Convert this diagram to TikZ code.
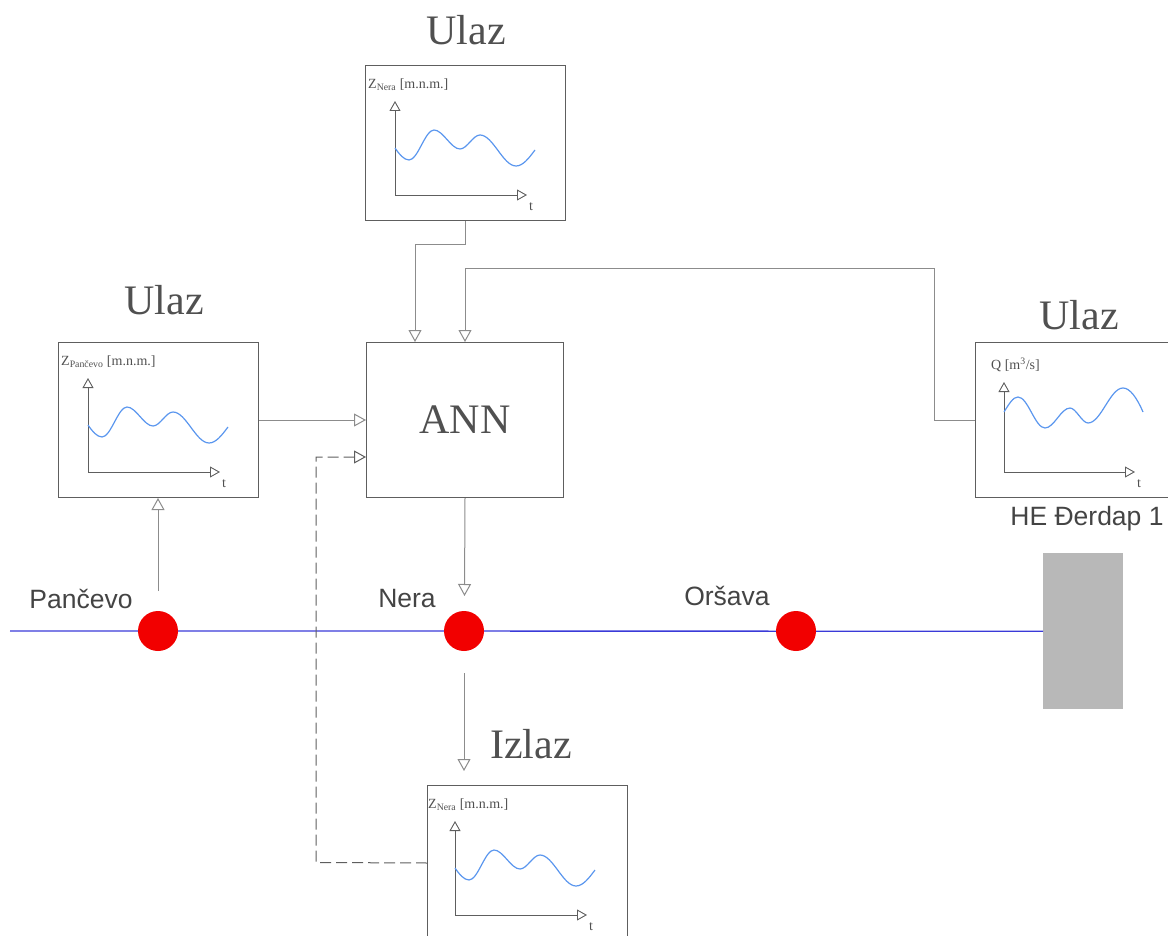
\documentclass[tikz,border=0pt]{standalone}
\usepackage{fontspec}
\setmainfont{Liberation Serif}
\newfontfamily\sansf{Liberation Sans}
\usetikzlibrary{arrows.meta}
\definecolor{linegray}{HTML}{8C8C8C}
\definecolor{boxgray}{HTML}{5E5E5E}
\definecolor{textgray}{HTML}{505050}
\definecolor{sansgray}{HTML}{444444}
\definecolor{wavecol}{HTML}{5A96EE}
\definecolor{rivercol}{HTML}{3A3AD8}
\definecolor{damgray}{HTML}{B8B8B8}
\definecolor{dotred}{HTML}{F20000}
\newcommand\stdwave{(30,83) .. controls (34,89) and (39,95) .. (44,95) .. controls (53,95) and (60,65) .. (69,65) .. controls (78,65) and (86,84) .. (95,84) .. controls (102,84) and (108,70) .. (115,70) .. controls (128,70) and (138,101) .. (151,101) .. controls (158,101) and (164,93) .. (170,85)}
\newcommand\stdplot[2]{%
  \node[lbl, anchor=west] (#1lbl) at (3,20) {#2};
  \draw[axis] (30,130) -- (30,36);
  \draw[axis] (30,130) -- (162,130);
  \node[lbl] (#1t) at (166,142) {t};
  \draw[wavestyle] \stdwave;
}
\begin{document}
\begin{tikzpicture}[x=1pt,y=-1pt,
  plotbox/.style={draw=boxgray, line width=1pt, minimum width=200pt, minimum height=155pt, inner sep=0pt, anchor=north west},
  conn/.style={draw=linegray, line width=1pt, -{Triangle[open,length=12pt,width=13pt]}},
  axis/.style={draw=boxgray, line width=0.9pt, -{Triangle[open,length=10pt,width=11pt]}},
  wavestyle/.style={draw=wavecol, line width=1.2pt},
  lbl/.style={font=\fontsize{14}{16}\selectfont, text=textgray, inner sep=0pt},
  title/.style={font=\fontsize{42}{48}\selectfont, text=textgray, inner sep=0pt, anchor=base},
  place/.style={font=\sansf\fontsize{26.5}{30}\selectfont, text=sansgray, inner sep=0pt, anchor=base},
  dot/.style={circle, fill=dotred, minimum size=40pt, inner sep=0pt},
  dashpat/.style={draw=boxgray, dash pattern=on 11pt off 5pt}
]
\useasboundingbox (0,0) rectangle (1168,936);

% boxes
\node[plotbox] (topbox) at (365,65) {};
\node[plotbox] (leftbox) at (58,342) {};
\node[plotbox] (rightbox) at (975,342) {};
\node[plotbox] (botbox) at (427,785) {};
\node[plotbox, minimum width=197pt] (ann) at (366,342) {};
\node[title] (anntxt) at (465,433) {ANN};

% plots
\begin{scope}[shift={(365,65)}]\stdplot{tp}{Z\textsubscript{Nera} [m.n.m.]}\end{scope}
\begin{scope}[shift={(58,342)}]\stdplot{lp}{Z\textsubscript{Pančevo} [m.n.m.]}\end{scope}
\begin{scope}[shift={(425,785)}]\stdplot{bp}{Z\textsubscript{Nera} [m.n.m.]}\end{scope}
\begin{scope}[shift={(975,342)}]
  \node[lbl, anchor=west] (rplbl) at (16,23) {Q [m\textsuperscript{3}/s]};
  \draw[axis] (29,130) -- (29,40);
  \draw[axis] (29,130) -- (160,130);
  \node[lbl] (rpt) at (164,142) {t};
  \draw[wavestyle] (29,70) .. controls (34,62) and (38,55) .. (43,55) .. controls (53,55) and (60,86) .. (70,86) .. controls (79,86) and (86,66) .. (95,66) .. controls (101,66) and (107,81) .. (113,81) .. controls (126,81) and (135,46) .. (148,46) .. controls (155,46) and (162,56) .. (168,70);
\end{scope}

% titles
\node[title] (t1) at (466,45) {Ulaz};
\node[title] (t2) at (164,314) {Ulaz};
\node[title] (t3) at (1079,330) {Ulaz};
\node[title] (t4) at (531,758) {Izlaz};

% river
\node[fill=damgray, minimum width=80pt, minimum height=156pt, inner sep=0pt, anchor=north west] (dam) at (1043,553) {};
\coordinate (riverstart) at (10,631);
\draw[draw=rivercol, line width=1.3pt] (riverstart) -- (dam.west);
\node[dot] (pan) at (158,631) {};
\node[dot] (nera) at (464,631) {};
\node[dot] (ors) at (796,631) {};
\node[place] (panl) at (81,608) {Pančevo};
\node[place] (neral) at (407,607) {Nera};
\node[place] (orsl) at (727,605) {Oršava};
\node[place] (hel) at (1087,525) {HE Đerdap 1};

% connectors
\coordinate (panstart) at (158,591);
\draw[conn] (panstart) -- (leftbox.south -| panstart);
\draw[conn] (leftbox.east) -- (ann.west);
\draw[conn] (topbox.south) -- ++(0,24) -| ([xshift=-50pt]ann.north);
\coordinate (fb) at (934,269);
\draw[conn] (rightbox.west) -| (fb) -| (ann.north);
\coordinate (neratop) at (464.5,596);
\draw[conn] (ann.south) -- (neratop);
\coordinate (nerabot) at (464,673);
\coordinate (izlazin) at (464,771);
\draw[conn] (nerabot) -- (izlazin);
\coordinate (dashcorner) at (316,862.5);
\draw[conn, dashpat] (botbox.west) -- (dashcorner) |- ([yshift=-37pt]ann.west);
\end{tikzpicture}
\end{document}
